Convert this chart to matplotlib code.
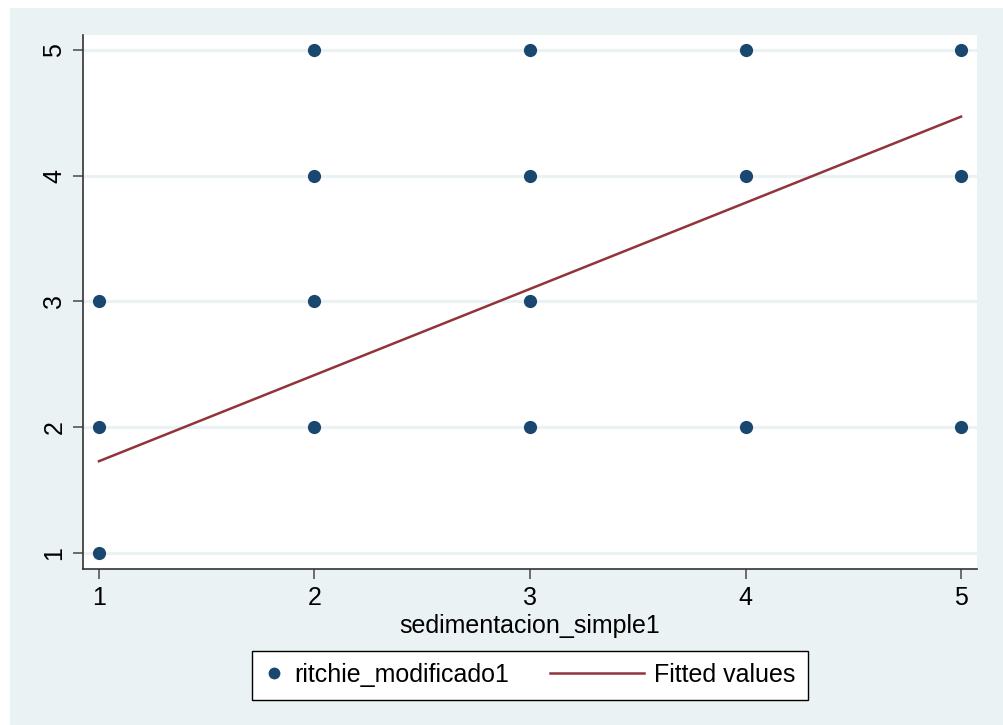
import matplotlib
matplotlib.use("Agg")
import matplotlib.pyplot as plt
from matplotlib.patches import Rectangle
from matplotlib.lines import Line2D
from matplotlib.legend_handler import HandlerBase

plt.rcParams['font.family'] = ['Liberation Sans', 'DejaVu Sans']

# observed (x, y) pairs, repeated points overlap in the picture
sed_x = [1, 1, 1, 2, 2, 2, 2, 3, 3, 3, 3, 4, 4, 4, 5, 5, 5]
ritchie_y = [1, 2, 3, 2, 3, 4, 5, 2, 3, 4, 5, 2, 4, 5, 2, 4, 5]

# fitted line endpoints
fit_x = [1, 5]
fit_y = [1.73, 4.47]

ticks = [1, 2, 3, 4, 5]

BG = '#EAF2F3'
NAVY = '#1A476F'
MAROON = '#90353B'


class LongLine(HandlerBase):
    # stata style legend key: line longer than the marker key
    def __init__(self, length):
        super().__init__()
        self.length = length

    def create_artists(self, legend, orig_handle, xdescent, ydescent,
                       width, height, fontsize, trans):
        y = height / 2 - ydescent
        x1 = width - xdescent
        ln = Line2D([x1 - self.length, x1], [y, y],
                    color=orig_handle.get_color(),
                    lw=orig_handle.get_linewidth())
        ln.set_transform(trans)
        return [ln]


W, H = 1004, 725
fig = plt.figure(figsize=(W / 100, H / 100), dpi=100)
fig.patch.set_facecolor('white')
fig.patches.append(Rectangle((10 / W, 0), 1 - 10 / W, 1 - 8 / H,
                             transform=fig.transFigure, facecolor=BG,
                             edgecolor='none', zorder=-10))

ax = fig.add_axes([83 / W, (H - 569) / H, (977 - 83) / W, (569 - 35) / H])
ax.set_facecolor('white')

ax.scatter(sed_x, ritchie_y, s=9.5 ** 2, color=NAVY, zorder=3,
           linewidths=0)
fit_line, = ax.plot(fit_x, fit_y, color=MAROON, lw=1.8, zorder=2)

ax.set_xlim(0.926, 5.074)
ax.set_ylim(0.873, 5.119)
ax.set_xticks(ticks)
ax.set_yticks(ticks)
ax.set_yticklabels([str(t) for t in ticks], rotation=90, va='center')
ax.yaxis.grid(True, color=BG, lw=2.2, zorder=1)
ax.set_axisbelow(True)

for s in ['top', 'right']:
    ax.spines[s].set_visible(False)
for s in ['left', 'bottom']:
    ax.spines[s].set_color('#333333')
    ax.spines[s].set_linewidth(1.2)
ax.tick_params(axis='both', length=7, width=1.2, color='#555555',
               labelsize=18, pad=5)

ax.set_xlabel('sedimentacion_simple1', fontsize=18, labelpad=3)

dot_key = Line2D([], [], linestyle='none', marker='o', markersize=8.5,
                 markerfacecolor=NAVY, markeredgewidth=0)
leg = fig.legend([dot_key, fit_line], ['ritchie_modificado1', 'Fitted values'],
                 handler_map={fit_line: LongLine(68)},
                 loc='center', bbox_to_anchor=(530 / W, (H - 675) / H), ncol=2,
                 fontsize=18, frameon=True, fancybox=False, edgecolor='black',
                 framealpha=1, facecolor='white',
                 handlelength=0.8, columnspacing=4.6, handletextpad=0.4,
                 borderpad=0.5)
leg.get_frame().set_linewidth(1.0)

fig.savefig('out.png', dpi=100, facecolor=fig.get_facecolor())
